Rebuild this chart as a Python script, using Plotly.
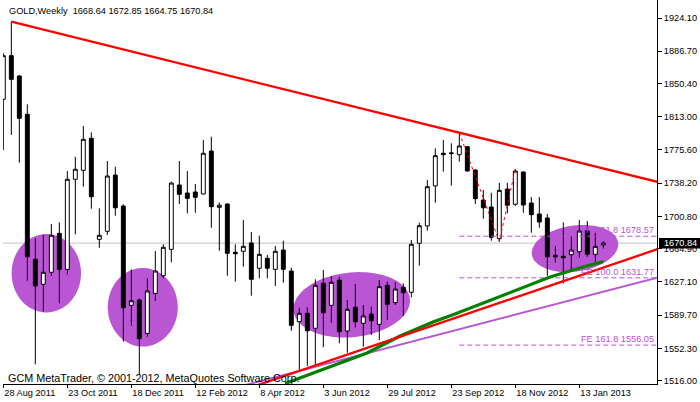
import numpy as np
import pandas as pd
import plotly.graph_objects as go

# ---------------- data ----------------
dates = pd.date_range('2011-08-28', periods=76, freq='7D')

opens = [1832.6, 1881.7, 1858.8, 1815.7, 1652.6, 1624.5, 1638.0, 1681.8, 1641.3, 1742.6,
         1752.7, 1788.7, 1675.1, 1684.1, 1747.4, 1712.5, 1600.8, 1606.8, 1569.3, 1614.3,
         1634.1, 1663.8, 1736.2, 1727.2, 1728.3, 1726.1, 1774.4, 1711.1, 1714.8, 1660.5,
         1661.6, 1671.0, 1642.5, 1653.7, 1641.3, 1663.0, 1639.4, 1582.4, 1591.8, 1575.0,
         1625.6, 1600.8, 1629.3, 1571.9, 1598.6, 1580.6, 1591.0, 1579.4, 1623.3, 1603.8,
         1621.1, 1615.5, 1670.6, 1690.1, 1735.1, 1771.9, 1771.5, 1770.3, 1779.3, 1753.1,
         1719.3, 1711.4, 1675.8, 1731.7, 1714.5, 1750.8, 1715.9, 1703.6, 1699.1, 1657.1,
         1656.0, 1657.8, 1661.1, 1684.8, 1658.2, 1668.64]
highs = [1884.4, 1920.0, 1860.0, 1827.0, 1676.2, 1680.0, 1692.3, 1694.2, 1751.9, 1768.0,
         1802.6, 1795.5, 1710.0, 1763.2, 1756.8, 1714.5, 1641.3, 1608.5, 1631.2, 1661.9,
         1669.5, 1739.9, 1763.2, 1751.9, 1737.3, 1786.8, 1790.5, 1716.7, 1715.6, 1669.5,
         1696.8, 1683.3, 1679.2, 1657.4, 1667.6, 1673.5, 1643.1, 1598.1, 1598.6, 1630.1,
         1640.6, 1633.8, 1633.0, 1606.8, 1624.8, 1601.2, 1599.3, 1629.3, 1627.4, 1627.0,
         1625.6, 1674.3, 1693.8, 1741.8, 1777.5, 1786.8, 1783.1, 1795.0, 1780.1, 1754.0,
         1730.6, 1727.5, 1738.5, 1738.5, 1754.3, 1751.6, 1722.7, 1722.7, 1703.6, 1667.6,
         1694.2, 1678.8, 1696.8, 1695.7, 1683.0, 1672.85]
lows = [1775.6, 1792.5, 1761.3, 1628.5, 1534.4, 1593.9, 1633.8, 1603.1, 1635.7, 1680.7,
        1734.3, 1709.5, 1665.6, 1679.9, 1701.6, 1559.9, 1577.9, 1522.4, 1565.5, 1605.7,
        1631.2, 1649.2, 1714.8, 1704.3, 1705.0, 1725.7, 1688.1, 1662.3, 1634.1, 1627.4,
        1644.3, 1611.6, 1631.2, 1631.2, 1622.6, 1626.3, 1572.2, 1527.0, 1532.5, 1532.5,
        1553.6, 1581.2, 1558.1, 1547.5, 1576.0, 1554.2, 1567.4, 1561.8, 1584.3, 1601.2,
        1588.8, 1609.8, 1645.4, 1684.8, 1716.3, 1751.2, 1735.4, 1762.4, 1751.2, 1714.8,
        1698.3, 1673.5, 1672.5, 1704.3, 1712.6, 1705.0, 1682.5, 1688.1, 1634.1, 1648.8,
        1625.6, 1641.3, 1654.4, 1655.5, 1649.2, 1664.75]
closes = [1881.7, 1855.1, 1811.2, 1655.5, 1622.6, 1638.0, 1679.6, 1641.3, 1742.6, 1753.9,
          1787.6, 1723.0, 1679.6, 1746.3, 1710.6, 1598.1, 1606.0, 1563.2, 1616.9, 1639.4,
          1666.1, 1738.4, 1725.7, 1721.2, 1722.3, 1771.9, 1711.8, 1713.4, 1659.3, 1658.9,
          1667.2, 1630.1, 1658.2, 1642.5, 1661.6, 1641.3, 1578.3, 1591.8, 1572.2, 1623.3,
          1592.5, 1626.7, 1571.1, 1596.3, 1582.4, 1588.8, 1583.5, 1621.8, 1601.9, 1619.1,
          1615.0, 1669.5, 1690.4, 1734.3, 1769.2, 1770.3, 1772.2, 1780.1, 1752.0, 1720.8,
          1710.6, 1677.3, 1730.2, 1713.4, 1751.9, 1713.7, 1702.8, 1694.6, 1655.5, 1655.5,
          1654.4, 1663.0, 1684.4, 1658.2, 1667.2, 1670.84]

x_tick_labels = ["28 Aug 2011", "23 Oct 2011", "18 Dec 2011", "12 Feb 2012", "8 Apr 2012",
                 "3 Jun 2012", "29 Jul 2012", "23 Sep 2012", "18 Nov 2012", "13 Jan 2013"]
y_tick_vals = [1924.10, 1886.70, 1850.40, 1813.00, 1775.60, 1738.20, 1700.80, 1664.90,
               1627.10, 1589.70, 1552.30, 1516.00]

# trend lines (bar index, price)
down_line_week = [1, 57]
down_line_price = [1920.0, 1795.0]
up_red_week = [37, 70]
up_red_price = [1527.0, 1628.0]
up_violet_week = [37, 81.7]
up_violet_price = [1527.0, 1631.8]
green_week = [35.21, 37.09, 41.21, 45.46, 49.59, 53.71, 56.46, 59.96, 64.21, 68.34, 72.46, 75.0]
green_price = [1512.8, 1519.0, 1532.5, 1547.2, 1566.3, 1582.0, 1591.0, 1603.4, 1618.0, 1632.7, 1643.9, 1650.1]

# Fibonacci expansion
fe_points_week = [57, 62, 64]
fe_points_price = [1795.0, 1672.49, 1754.28]
fe_levels = [61.8, 100.0, 161.8]
fe_values = [1678.57, 1631.77, 1556.05]

# ellipses: centre (bar index, price)
ell_week = [5.375, 17.43, 43.55, 71.46]
ell_price = [1636.9, 1598.6, 1601.4, 1664.7]

last_price = 1670.84

# ---------------- layout constants ----------------
X_RANGE = [-0.04, 81.71]
Y_RANGE = [1512.3, 1944.35]
W, H = 700, 402
ML, MR, MT, MB = 3, 43, 0, 18
PW, PH = W - ML - MR, H - MT - MB
PXW = PW / (X_RANGE[1] - X_RANGE[0])
PXP = PH / (Y_RANGE[1] - Y_RANGE[0])

VIOLET = '#BA55D3'
FONT = 'Liberation Sans, Arial, sans-serif'

ell_geom = [(34.7, 39.2, 0), (35.0, 39.3, 0), (58.5, 32.3, 6), (43.5, 23.0, 8)]


def ellipse_path(ck, cp, a, b, tilt):
    th = np.radians(tilt)
    pts = []
    for t in np.linspace(0, 2 * np.pi, 90, endpoint=False):
        dx, dy = a * np.cos(t), b * np.sin(t)
        rx = dx * np.cos(th) - dy * np.sin(th)
        ry = dx * np.sin(th) + dy * np.cos(th)
        pts.append((ck + rx / PXW, cp + ry / PXP))
    return 'M ' + ' L '.join(f'{k:.4f},{p:.3f}' for k, p in pts) + ' Z'


idx = list(range(len(dates)))
fig = go.Figure()

shapes = []
for ck, cp, (a, b, tl) in zip(ell_week, ell_price, ell_geom):
    shapes.append(dict(type='path', path=ellipse_path(ck, cp, a, b, tl), xref='x', yref='y',
                       fillcolor=VIOLET, line=dict(width=0), layer='below'))
shapes.append(dict(type='line', xref='paper', x0=0, x1=1, yref='y', y0=last_price, y1=last_price,
                   line=dict(color='#C0C0C0', width=1), layer='below'))

fig.add_trace(go.Candlestick(
    x=idx, open=opens, high=highs, low=lows, close=closes,
    increasing=dict(fillcolor='white', line=dict(color='black', width=1)),
    decreasing=dict(fillcolor='black', line=dict(color='black', width=1)),
    whiskerwidth=0, showlegend=False, hoverinfo='skip'))


def extend(ws, ps, x0, x1):
    s = (ps[1] - ps[0]) / (ws[1] - ws[0])
    return [x0, x1], [ps[0] + s * (x0 - ws[0]), ps[0] + s * (x1 - ws[0])]


# FE zigzag (dotted red)
fig.add_trace(go.Scatter(x=fe_points_week, y=fe_points_price, mode='lines',
                         line=dict(color='red', width=1, dash='dot'), showlegend=False, hoverinfo='skip'))
# FE levels
for v in fe_values:
    fig.add_trace(go.Scatter(x=[fe_points_week[0], 90], y=[v, v], mode='lines',
                             line=dict(color=VIOLET, width=1, dash='5px,3px'), showlegend=False, hoverinfo='skip'))

xs, ys = extend(down_line_week, down_line_price, down_line_week[0], 90)
fig.add_trace(go.Scatter(x=xs, y=ys, mode='lines', line=dict(color='red', width=2.3),
                         showlegend=False, hoverinfo='skip'))
xs, ys = extend(up_violet_week, up_violet_price, 20, 90)
fig.add_trace(go.Scatter(x=xs, y=ys, mode='lines', line=dict(color=VIOLET, width=2),
                         showlegend=False, hoverinfo='skip'))
fig.add_trace(go.Scatter(x=green_week, y=green_price, mode='lines', line=dict(color='#008000', width=3.2),
                         showlegend=False, hoverinfo='skip'))
xs, ys = extend(up_red_week, up_red_price, 20, 90)
fig.add_trace(go.Scatter(x=xs, y=ys, mode='lines', line=dict(color='red', width=2.3),
                         showlegend=False, hoverinfo='skip'))

# price box on the axis
shapes.append(dict(type='rect', xref='paper', x0=(659 - ML) / PW, x1=(700 - ML) / PW,
                   yref='y', y0=last_price - 5.5 / PXP, y1=last_price + 5.0 / PXP,
                   fillcolor='black', line=dict(width=0), layer='above'))

annotations = []
annotations.append(dict(text=f'{last_price:.2f}', xref='paper', x=(662 - ML) / PW, xanchor='left',
                        yref='y', y=last_price, yanchor='middle', showarrow=False,
                        font=dict(family=FONT, size=9.2, color='white')))
for lv, v in zip(fe_levels, fe_values):
    annotations.append(dict(text=f'FE {lv:.1f} {v:.2f}', xref='paper', x=(656 - ML) / PW, xanchor='right',
                            yref='y', y=v, yanchor='bottom', yshift=-1, showarrow=False,
                            font=dict(family=FONT, size=9.2, color=VIOLET)))
annotations.append(dict(text=f'GOLD,Weekly  {opens[-1]:.2f} {highs[-1]:.2f} {lows[-1]:.2f} {closes[-1]:.2f}',
                        xref='paper', x=(7 - ML) / PW, xanchor='left', yref='paper', y=1 - 10.5 / PH,
                        yanchor='middle', showarrow=False, font=dict(family=FONT, size=9.2, color='black')))
annotations.append(dict(text='GCM MetaTrader, © 2001-2012, MetaQuotes Software Corp.',
                        xref='paper', x=(6 - ML) / PW, xanchor='left', yref='paper', y=1 - 377.5 / PH,
                        yanchor='middle', showarrow=False, font=dict(family=FONT, size=10.8, color='black')))

x_tick_idx = [i for i, d in enumerate(dates) if f'{d.day} {d.strftime("%b %Y")}' in x_tick_labels]

fig.update_layout(
    width=W, height=H, margin=dict(l=ML, r=MR, t=MT, b=MB),
    paper_bgcolor='white', plot_bgcolor='white',
    shapes=shapes, annotations=annotations, showlegend=False,
    font=dict(family=FONT, size=9, color='black'),
    boxgap=0.3,
    xaxis=dict(range=X_RANGE, showgrid=False, zeroline=False, showline=True, linecolor='black',
               linewidth=1, ticks='outside', ticklen=3, tickcolor='black', tickwidth=1,
               tickvals=x_tick_idx, ticktext=x_tick_labels, ticklabelposition='outside right',
               rangeslider=dict(visible=False), fixedrange=True,
               tickfont=dict(family=FONT, size=9.2, color='black')),
    yaxis=dict(range=Y_RANGE, side='right', showgrid=False, zeroline=False, showline=True,
               linecolor='black', linewidth=1, ticks='outside', ticklen=4, tickcolor='black',
               tickvals=y_tick_vals, ticktext=[f'{v:.2f}' for v in y_tick_vals], fixedrange=True,
               tickfont=dict(family=FONT, size=9.2, color='black')),
)

fig.write_html('out.html', config={'displayModeBar': False},
               post_script="document.body.style.margin='0';document.body.style.padding='0';")
